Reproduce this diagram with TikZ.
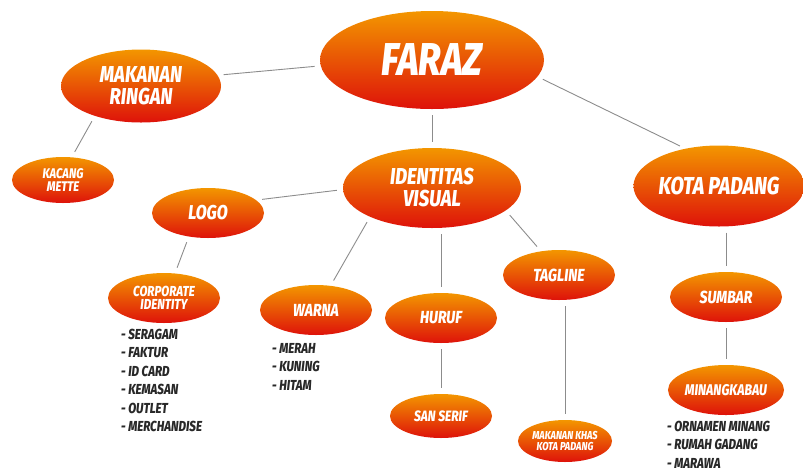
\documentclass[tikz,border=0pt]{standalone}
\usepackage{fontspec}
\newfontfamily\comic{Fira Sans}[FakeStretch=0.8, BoldItalicFont={Fira Sans ExtraBold Italic}]
\usetikzlibrary{shapes.geometric}
\definecolor{toporange}{RGB}{243,150,0}
\definecolor{botred}{RGB}{222,18,10}
\definecolor{linegray}{RGB}{140,140,140}
\definecolor{listgray}{RGB}{40,40,40}
\tikzset{
  bubble/.style={ellipse, top color=toporange, bottom color=botred, inner sep=0pt,
    text=white, align=center, font=\comic\bfseries\itshape},
  link/.style={draw=linegray, line width=0.9pt, shorten >=6pt, shorten <=6pt},
  listtext/.style={anchor=north west, align=left, text=listgray, inner sep=0pt,
    font=\comic\bfseries\itshape\fontsize{14.5}{18.4}\selectfont}
}
\begin{document}
\begin{tikzpicture}[x=1pt,y=-1pt]
\useasboundingbox (0,0) rectangle (803,475);
\node[bubble, minimum width=224pt, minimum height=98pt, font=\comic\bfseries\itshape\fontsize{46}{48}\selectfont] (faraz) at (432,60) {FARAZ};
\node[bubble, minimum width=160pt, minimum height=73pt, font=\comic\bfseries\itshape\fontsize{23}{22}\selectfont] (mak) at (141,86) {MAKANAN\\RINGAN};
\node[bubble, minimum width=102pt, minimum height=46pt, font=\comic\bfseries\itshape\fontsize{14}{13}\selectfont] (kacang) at (63,180) {KACANG\\METTE};
\node[bubble, minimum width=112pt, minimum height=50pt, font=\comic\bfseries\itshape\fontsize{20}{18}\selectfont] (logo) at (208,213) {LOGO};
\node[bubble, minimum width=178pt, minimum height=80pt, font=\comic\bfseries\itshape\fontsize{23}{22}\selectfont] (ident) at (432,188) {IDENTITAS\\VISUAL};
\node[bubble, minimum width=168pt, minimum height=81pt, font=\comic\bfseries\itshape\fontsize{24.5}{22}\selectfont] (kota) at (719,186) {KOTA PADANG};
\node[bubble, minimum width=112pt, minimum height=50pt, font=\comic\bfseries\itshape\fontsize{14.5}{13.5}\selectfont] (corp) at (164,298) {CORPORATE\\IDENTITY};
\node[bubble, minimum width=112pt, minimum height=50pt, font=\comic\bfseries\itshape\fontsize{17.5}{16}\selectfont] (warna) at (316,310) {WARNA};
\node[bubble, minimum width=112pt, minimum height=50pt, font=\comic\bfseries\itshape\fontsize{17.5}{16}\selectfont] (huruf) at (441,318) {HURUF};
\node[bubble, minimum width=112pt, minimum height=50pt, font=\comic\bfseries\itshape\fontsize{17.5}{16}\selectfont] (tagline) at (559,275) {TAGLINE};
\node[bubble, minimum width=102pt, minimum height=44pt, font=\comic\bfseries\itshape\fontsize{15}{14}\selectfont] (san) at (441,416) {SAN SERIF};
\node[bubble, minimum width=94pt, minimum height=42pt, font=\comic\bfseries\itshape\fontsize{11.5}{10.5}\selectfont] (khas) at (565,441) {MAKANAN KHAS\\KOTA PADANG};
\node[bubble, minimum width=112pt, minimum height=50pt, font=\comic\bfseries\itshape\fontsize{17.5}{16}\selectfont] (sumbar) at (726,297) {SUMBAR};
\node[bubble, minimum width=113pt, minimum height=50pt, font=\comic\bfseries\itshape\fontsize{15.5}{14}\selectfont] (minang) at (726,390) {MINANGKABAU};

\node[listtext] (corplist) at (121,329) {- SERAGAM\\- FAKTUR\\- ID CARD\\- KEMASAN\\- OUTLET\\- MERCHANDISE};
\node[listtext] (warnalist) at (272,343) {- MERAH\\- KUNING\\- HITAM};
\node[listtext] (minanglist) at (667,421) {- ORNAMEN MINANG\\- RUMAH GADANG\\- MARAWA};

\draw[link] (faraz.183) -- (mak.8);
\draw[link] (mak.213) -- (kacang.69);
\draw[link] (faraz.south) -- (ident.north);
\draw[link] (faraz.351) -- (kota.132);
\draw[link] (ident.181) -- (logo.15);
\draw[link] (logo.231) -- (corp.66);
\draw[link] (ident.205) -- (warna.59);
\draw[link] (huruf.north |- ident.south) -- (huruf.north);
\draw[link] (ident.343) -- (tagline.127);
\draw[link] (huruf.south) -- (san.north);
\draw[link] (khas.north |- tagline.south) -- (khas.north);
\draw[link] (sumbar.north |- kota.south) -- (sumbar.north);
\draw[link] (sumbar.south) -- (minang.north);
\end{tikzpicture}
\end{document}
